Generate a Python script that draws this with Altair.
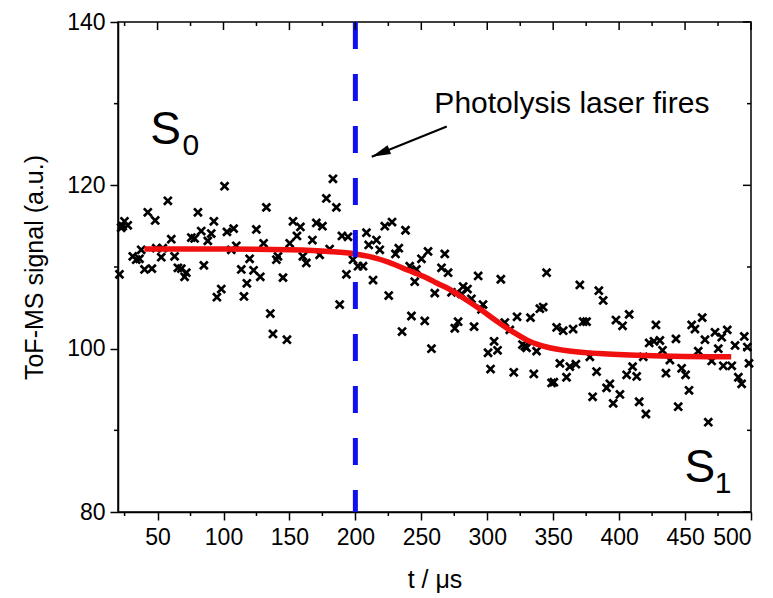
import altair as alt
import pandas as pd

t_us = [21.1, 22.4, 23.6, 24.9, 27.4, 31.2, 33.8, 36.3, 37.6, 40.1, 42.6, 45.7, 48.2, 49.0, 52.8,
        54.0, 57.8, 60.4, 62.9, 65.4, 68.0, 70.5, 71.8, 75.6, 78.1, 80.6, 83.1, 85.1, 88.1, 90.7,
        92.7, 95.0, 98.3, 100.8, 102.6, 105.9, 107.7, 109.7, 113.5, 115.5, 117.7, 119.8, 122.8, 124.9,
        127.9, 130.4, 132.5, 135.5, 137.5, 140.1, 141.3, 145.1, 148.1, 150.2, 152.7, 155.7, 158.3,
        160.2, 162.8, 167.4, 170.4, 172.9, 175.0, 178.0, 180.5, 183.0, 185.6, 188.1, 189.8, 193.2,
        194.4, 198.2, 202.0, 205.8, 208.4, 210.1, 213.4, 216.0, 218.5, 222.3, 225.3, 227.8, 230.4,
        232.9, 235.4, 238.0, 241.2, 242.5, 245.0, 246.3, 250.1, 252.6, 255.1, 257.7, 260.2, 265.3,
        267.8, 270.3, 272.9, 275.4, 277.9, 280.5, 281.7, 285.0, 288.0, 290.0, 293.1, 295.6, 296.8,
        300.6, 302.5, 305.2, 307.8, 310.3, 313.3, 317.1, 320.1, 322.6, 326.7, 328.5, 329.8, 332.8,
        335.3, 337.4, 339.9, 342.4, 345.0, 348.8, 350.5, 352.6, 355.1, 357.6, 360.1, 362.6, 365.1,
        367.2, 370.2, 372.7, 375.3, 377.8, 379.9, 382.9, 384.6, 387.9, 390.5, 393.0, 395.5, 397.6,
        400.6, 402.6, 405.7, 407.6, 410.2, 413.3, 415.2, 418.3, 420.3, 422.8, 426.4, 427.9, 430.9,
        432.9, 435.5, 438.5, 443.1, 444.8, 447.4, 450.4, 453.0, 455.0, 457.5, 460.0, 463.0, 465.1,
        467.6, 470.2, 472.7, 475.2, 477.8, 479.0, 482.0, 485.4, 487.9, 490.4, 492.9, 494.9, 497.2,
        498.5]
signal = [109.1, 114.8, 115.0, 115.6, 115.1, 111.3, 110.9, 111.0, 112.1, 109.7, 116.7, 109.8, 115.7,
          112.3, 111.2, 112.3, 118.1, 113.4, 111.3, 109.9, 109.8, 108.8, 109.3, 113.6, 113.5, 116.7,
          114.4, 110.2, 113.2, 114.1, 115.6, 106.3, 107.3, 119.9, 114.3, 112.1, 114.7, 112.6, 109.7,
          106.4, 108.0, 111.0, 109.6, 114.6, 108.8, 112.9, 117.3, 104.3, 101.8, 110.9, 111.3, 108.7,
          101.1, 112.9, 115.6, 113.8, 114.9, 111.3, 110.5, 113.3, 115.4, 111.5, 115.0, 118.4, 112.2,
          120.8, 117.3, 105.4, 113.8, 109.1, 113.7, 110.9, 110.1, 110.1, 114.2, 112.7, 108.4, 113.3,
          112.1, 115.0, 106.5, 115.5, 111.6, 112.3, 102.1, 114.5, 110.1, 104.0, 108.2, 109.7, 111.0,
          103.4, 111.9, 100.0, 106.8, 109.9, 111.6, 109.3, 106.9, 102.5, 103.3, 106.7, 107.6, 107.3,
          106.1, 102.7, 108.9, 104.8, 105.4, 99.5, 97.5, 100.9, 99.8, 108.5, 103.2, 102.3, 97.1, 103.9,
          100.5, 100.3, 100.1, 103.8, 96.9, 99.7, 104.9, 105.1, 109.3, 95.8, 95.9, 102.6, 98.2, 102.2,
          96.5, 97.8, 102.4, 98.1, 107.8, 103.3, 103.3, 99.0, 94.1, 97.2, 107.1, 105.9, 95.2, 95.7,
          93.3, 103.5, 94.4, 102.8, 96.8, 104.2, 97.8, 96.6, 93.5, 99.0, 92.0, 100.7, 100.9, 102.9,
          101.0, 99.8, 97.0, 98.6, 101.2, 92.9, 97.6, 96.8, 94.9, 102.9, 102.4, 99.7, 103.8, 101.1,
          91.0, 98.5, 102.0, 100.0, 101.4, 97.9, 102.3, 97.9, 100.4, 96.5, 95.7, 101.5, 100.2, 98.2]

fit_t = [40, 100, 150, 180, 200, 210, 225, 240, 255, 262, 270, 281, 295, 307, 320, 332, 345, 358,
         385, 420, 450, 485]
fit_y = [112.2, 112.2, 112.1, 111.9, 111.6, 111.3, 110.6, 109.6, 108.6, 108.0, 107.4, 106.3, 104.8,
         103.4, 102.0, 100.9, 100.2, 99.8, 99.4, 99.15, 99.05, 99.0]

laser_t = [200]
arrow_t = [269.3, 212.4]
arrow_y = [127.2, 123.5]

x_major = [50, 100, 150, 200, 250, 300, 350, 400, 450, 500]
x_minor = [25, 75, 125, 175, 225, 275, 325, 375, 425, 475]
y_major = [80, 100, 120, 140]
y_minor = [90, 110, 130]

W, H = 633, 490
FONT = "Liberation Sans"

xscale = alt.Scale(domain=[20, 500], nice=False, zero=False)
yscale = alt.Scale(domain=[80, 140], nice=False, zero=False)
xaxis = alt.Axis(values=x_major, title="t / μs", grid=False, tickSize=8, tickWidth=1.5,
                 domainWidth=1.5, domainColor="black", tickColor="black", labelColor="black",
                 labelFontSize=23, labelFont=FONT, labelPadding=6, titleFont=FONT,
                 titleFontSize=25, titleFontWeight="normal", titleColor="black", titlePadding=18)
yaxis = alt.Axis(values=y_major, title="ToF-MS signal (a.u.)", grid=False, tickSize=8,
                 tickWidth=1.5, domainWidth=1.5, domainColor="black", tickColor="black",
                 labelColor="black", labelFontSize=23, labelFont=FONT, labelPadding=5,
                 titleFont=FONT, titleFontSize=25, titleFontWeight="normal", titleColor="black",
                 titlePadding=19)
X = alt.X("x:Q", scale=xscale, axis=xaxis)
Y = alt.Y("y:Q", scale=yscale, axis=yaxis)

pts = pd.DataFrame({"x": t_us, "y": signal})
fit = pd.DataFrame({"x": fit_t, "y": fit_y})

points = alt.Chart(pts).mark_point(
    shape="M-1,-1L1,1M-1,1L1,-1", size=62, strokeWidth=2.7, color="black", filled=False, opacity=1
).encode(x=X, y=Y)

fit_line = alt.Chart(fit).mark_line(color="#f01010", strokeWidth=5.5, interpolate="monotone").encode(x=X, y=Y)

laser = alt.Chart(pd.DataFrame({"x": laser_t})).mark_rule(
    color="#1010ee", strokeWidth=5, strokeDash=[27, 25]
).encode(x=X, y=alt.datum(140, scale=yscale), y2=alt.datum(80))

arr = pd.DataFrame({"x": arrow_t, "y": arrow_y, "o": [0, 1]})
arrow_line = alt.Chart(arr).mark_line(color="black", strokeWidth=2).encode(x=X, y=Y, order="o:Q")
arrow_head = alt.Chart(arr.iloc[[1]]).mark_point(
    shape="M0,0L1,4L-1,4Z", size=90, filled=True, color="black", opacity=1, angle=248
).encode(x=X, y=Y)

def label(df, size, align="left"):
    return alt.Chart(df).mark_text(font=FONT, fontSize=size, align=align, baseline="middle",
                                   color="black").encode(x=X, y=Y, text="t:N")

txt_main = label(pd.DataFrame({"x": [364.2], "y": [129.9], "t": ["Photolysis laser fires"]}), 30, "center")
s0 = label(pd.DataFrame({"x": [44.5], "y": [126.8], "t": ["S"]}), 46)
s0_sub = label(pd.DataFrame({"x": [69.0], "y": [124.8], "t": ["0"]}), 30)
s1 = label(pd.DataFrame({"x": [449.5], "y": [85.4], "t": ["S"]}), 46)
s1_sub = label(pd.DataFrame({"x": [472.5], "y": [83.4], "t": ["1"]}), 30)

# extra tick marks: minor ticks outside, mirrored ticks inside (top/right)
bot_minor = alt.Chart(pd.DataFrame({"x": x_minor})).mark_rule(color="black", strokeWidth=1.5).encode(
    x=X, y=alt.value(H), y2=alt.value(H + 4))
top_major = alt.Chart(pd.DataFrame({"x": x_major})).mark_rule(color="black", strokeWidth=1.5).encode(
    x=X, y=alt.value(0), y2=alt.value(8))
top_minor = alt.Chart(pd.DataFrame({"x": x_minor})).mark_rule(color="black", strokeWidth=1.5).encode(
    x=X, y=alt.value(0), y2=alt.value(4))
left_minor = alt.Chart(pd.DataFrame({"y": y_minor})).mark_rule(color="black", strokeWidth=1.5).encode(
    y=Y, x=alt.value(0), x2=alt.value(-4))
right_major = alt.Chart(pd.DataFrame({"y": y_major})).mark_rule(color="black", strokeWidth=1.5).encode(
    y=Y, x=alt.value(W), x2=alt.value(W - 8))
right_minor = alt.Chart(pd.DataFrame({"y": y_minor})).mark_rule(color="black", strokeWidth=1.5).encode(
    y=Y, x=alt.value(W), x2=alt.value(W - 4))

chart = alt.layer(
    points, fit_line, laser, arrow_line, arrow_head, txt_main, s0, s0_sub, s1, s1_sub,
    bot_minor, top_major, top_minor, left_minor, right_major, right_minor
).properties(
    width=W, height=H, autosize=alt.AutoSizeParams(type="none"),
    padding={"left": 110, "top": 14, "right": 14, "bottom": 84},
    background="white"
).configure_view(stroke="black", strokeWidth=1.5)

chart.save("out.html", embed_options={"renderer": "svg", "actions": False})
